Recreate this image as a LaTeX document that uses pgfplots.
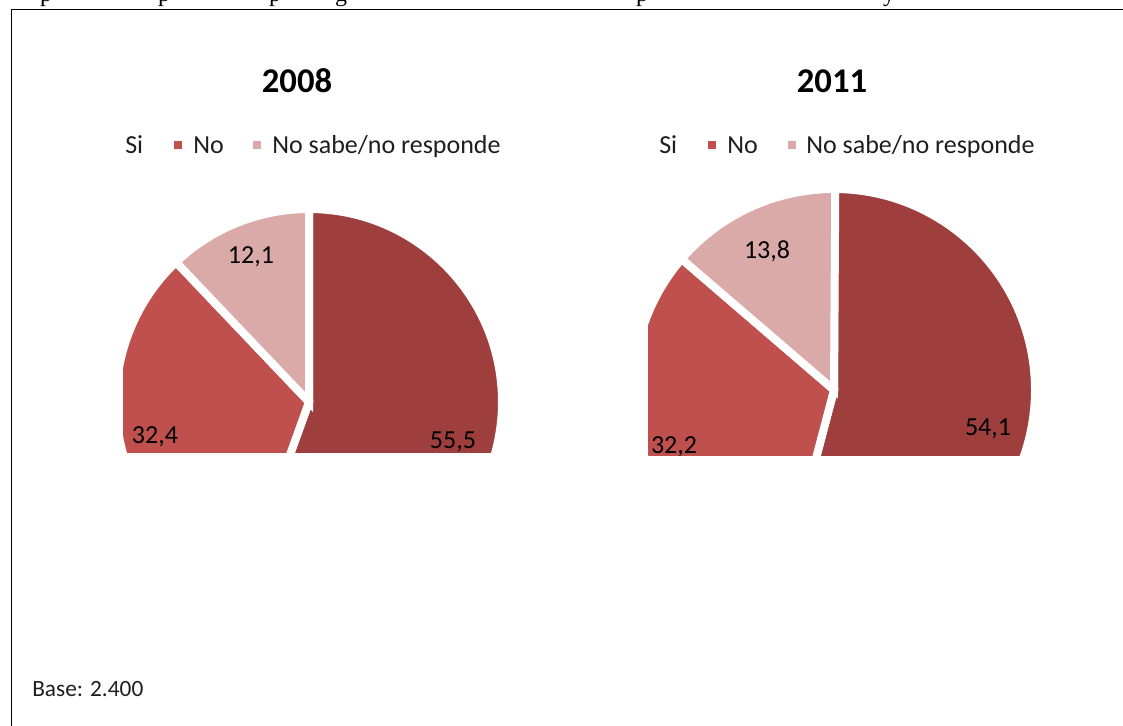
\documentclass[border=0pt]{standalone}
\usepackage{pgfplots}
\pgfplotsset{compat=1.18}
\usepackage{pgfplotstable}
\usepackage{fontspec}
\setmainfont{Carlito}
\newfontfamily\serifff{Liberation Serif}
\definecolor{csi}{RGB}{158,63,62}
\definecolor{cno}{RGB}{192,80,77}
\definecolor{cns}{RGB}{218,170,169}
\definecolor{txt}{RGB}{30,30,30}

\pgfplotstableread{
cat val
Si 55.5
No 32.4
NS 12.1
}\tabA
\pgfplotstableread{
cat val
Si 54.1
No 32.2
NS 13.8
}\tabB

\newcommand\getangles[2]{%
 \pgfplotstablegetelem{0}{val}\of#1\pgfmathsetmacro\tmpa{90-3.6*\pgfplotsretval}%
 \expandafter\global\expandafter\let\csname #2a\endcsname\tmpa
 \pgfplotstablegetelem{1}{val}\of#1\pgfmathsetmacro\tmpb{\tmpa-3.6*\pgfplotsretval}%
 \expandafter\global\expandafter\let\csname #2b\endcsname\tmpb
 \pgfplotstablegetelem{2}{val}\of#1\pgfmathsetmacro\tmpc{\tmpb-3.6*\pgfplotsretval}%
 \expandafter\global\expandafter\let\csname #2c\endcsname\tmpc
}

% cx, cy (image px), radius (pt), a1, a2, a3
\newcommand\pie[6]{%
 \fill[csi, draw=white, line width=6pt, line join=miter] (axis cs:#1,#2) -- ++(90:#3) arc[start angle=90, end angle=#4, radius=#3] -- cycle;
 \fill[cno, draw=white, line width=6pt, line join=miter] (axis cs:#1,#2) -- ++(#4:#3) arc[start angle=#4, end angle=#5, radius=#3] -- cycle;
 \fill[cns, draw=white, line width=6pt, line join=miter] (axis cs:#1,#2) -- ++(#5:#3) arc[start angle=#5, end angle=#6, radius=#3] -- cycle;
}

\begin{document}
\getangles\tabA{A}%
\getangles\tabB{B}%
\begin{tikzpicture}
\begin{axis}[at={(0,0)}, anchor=south west, x=0.75pt, y=0.75pt,
  xmin=0, xmax=1123, ymin=0, ymax=725, y dir=reverse,
  hide axis, clip=false]
% frame
\draw[black, line width=1.1pt] (axis cs:11.5,760) -- (axis cs:11.5,9.5) -- (axis cs:1160,9.5);
% fragments of the text line above
\begin{scope}[font=\serifff\fontsize{18}{20}\selectfont]
\node[anchor=base, inner sep=0] at (axis cs:46,1) {p};
\node[anchor=base, inner sep=0] at (axis cs:164,1) {p};
\node[anchor=base, inner sep=0] at (axis cs:275,1) {p};
\node[anchor=base, inner sep=0] at (axis cs:341,1) {g};
\node[anchor=base, inner sep=0] at (axis cs:642,1) {p};
\node[anchor=base, inner sep=0] at (axis cs:889,1) {y};
\end{scope}
% titles
\node[anchor=base, inner sep=0, font=\bfseries\fontsize{26}{28}\selectfont] at (axis cs:297,92) {2008};
\node[anchor=base, inner sep=0, font=\bfseries\fontsize{26}{28}\selectfont] at (axis cs:832,92) {2011};
% legends
\begin{scope}[font=\fontsize{19.5}{21}\selectfont, text=txt]
\node[anchor=base west, inner sep=0] at (axis cs:125,153) {Si};
\fill[cno] (axis cs:173.5,140.5) rectangle (axis cs:181.5,148.5);
\node[anchor=base west, inner sep=0] at (axis cs:193,153) {No};
\fill[cns] (axis cs:253,140.5) rectangle (axis cs:261,148.5);
\node[anchor=base west, inner sep=0] at (axis cs:272,153) {No sabe/no responde};
\node[anchor=base west, inner sep=0] at (axis cs:659,153) {Si};
\fill[cno] (axis cs:707.5,140.5) rectangle (axis cs:715.5,148.5);
\node[anchor=base west, inner sep=0] at (axis cs:727,153) {No};
\fill[cns] (axis cs:787.5,140.5) rectangle (axis cs:795.5,148.5);
\node[anchor=base west, inner sep=0] at (axis cs:806,153) {No sabe/no responde};
\end{scope}
% pie 2008
\begin{scope}
\clip (axis cs:123,180) rectangle (axis cs:560,452);
\pie{309}{402}{144.75pt}{\Aa}{\Ab}{\Ac}
\begin{scope}[font=\fontsize{19.5}{21}\selectfont, text=black]
\node[anchor=base, inner sep=0] at (axis cs:251,263) {12,1};
\node[anchor=base, inner sep=0] at (axis cs:155,443) {32,4};
\node[anchor=base, inner sep=0] at (axis cs:453,448) {55,5};
\end{scope}
\end{scope}
% pie 2011
\begin{scope}
\clip (axis cs:648,170) rectangle (axis cs:1100,455);
\pie{834}{390}{150.75pt}{\Ba}{\Bb}{\Bc}
\begin{scope}[font=\fontsize{19.5}{21}\selectfont, text=black]
\node[anchor=base, inner sep=0] at (axis cs:767,258) {13,8};
\node[anchor=base, inner sep=0] at (axis cs:674,453) {32,2};
\node[anchor=base, inner sep=0] at (axis cs:988,435) {54,1};
\end{scope}
\end{scope}
% base note
\node[anchor=base west, inner sep=0, font=\fontsize{17.5}{19}\selectfont, text=txt] at (axis cs:32,696) {Base: 2.400};
\end{axis}
\pgfresetboundingbox
\useasboundingbox (0,0) rectangle (842.25pt,543.75pt);
\end{tikzpicture}
\end{document}
